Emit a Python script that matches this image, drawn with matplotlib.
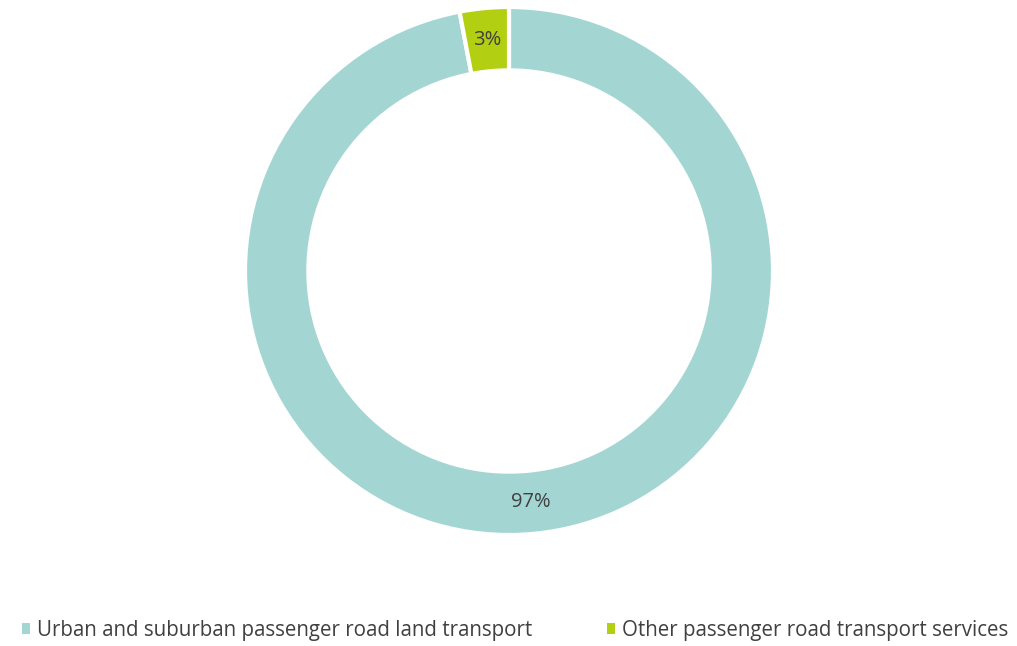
import matplotlib.pyplot as plt
from matplotlib.patches import Patch

categories = ["Urban and suburban passenger road land transport",
              "Other passenger road transport services"]
shares = [97, 3]
colors = ["#A3D6D2", "#B3CF11"]

plt.rcParams['font.family'] = ['Open Sans', 'DejaVu Sans']

fig = plt.figure(figsize=(10.17, 6.46), dpi=100)
W, H = 1017, 646
cx, cy, r = 509, 271, 264
ax = fig.add_axes([(cx - r) / W, (H - cy - r) / H, 2 * r / W, 2 * r / H])

wedges, texts, autotexts = ax.pie(
    shares, colors=colors, startangle=90, counterclock=False, radius=1,
    autopct='%d%%', pctdistance=0.88,
    wedgeprops=dict(width=0.24, edgecolor='white', linewidth=3),
    textprops=dict(color='#404040', fontsize=14.5))
ax.set_aspect('equal')
ax.set_xlim(-1, 1)
ax.set_ylim(-1, 1)
ax.axis('off')

handles = [Patch(facecolor=c, edgecolor='none') for c in colors]
fig.legend(handles, categories, loc='center left', bbox_to_anchor=(22 / W, 0.024),
           ncol=2, frameon=False, fontsize=14.8, handlelength=0.4,
           handleheight=0.4, handletextpad=0.35, columnspacing=3.6,
           borderpad=0, borderaxespad=0, labelcolor='#404040')

fig.savefig('out.png', dpi=100)
